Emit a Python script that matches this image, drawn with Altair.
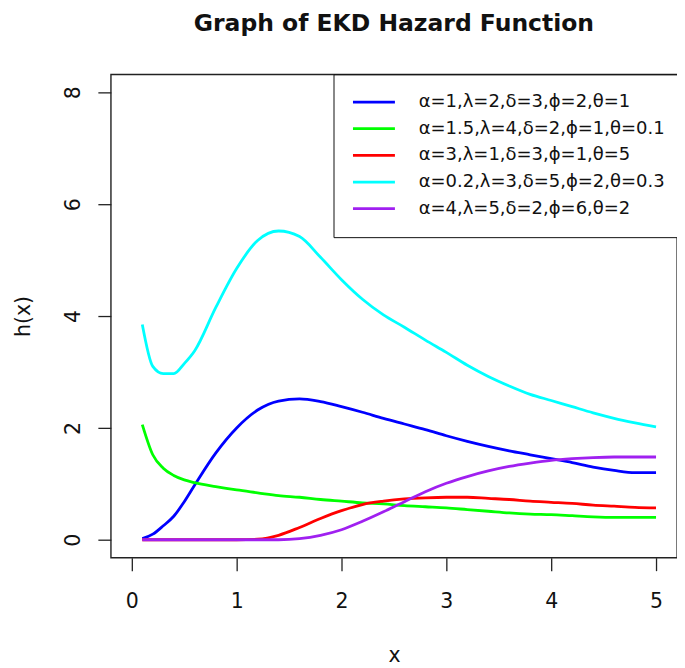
import altair as alt
import pandas as pd

x_vals = [0.1, 0.2, 0.3, 0.4, 0.5, 0.6, 0.8, 1.0, 1.2, 1.4, 1.6, 1.8, 2.0, 2.2,
          2.4, 2.6, 2.8, 3.0, 3.2, 3.4, 3.6, 3.8, 4.0, 4.2, 4.4, 4.6, 4.8, 5.0]

labels = [
    "α=1,λ=2,δ=3,ϕ=2,θ=1",
    "α=1.5,λ=4,δ=2,ϕ=1,θ=0.1",
    "α=3,λ=1,δ=3,ϕ=1,θ=5",
    "α=0.2,λ=3,δ=5,ϕ=2,θ=0.3",
    "α=4,λ=5,δ=2,ϕ=6,θ=2",
]
colors = ["#0000FF", "#00FF00", "#FF0000", "#00FFFF", "#A020F0"]

h_blue = [0.02, 0.10, 0.25, 0.42, 0.68, 0.98, 1.55, 2.00, 2.32, 2.48, 2.52, 2.47, 2.38, 2.28,
          2.17, 2.07, 1.97, 1.86, 1.76, 1.67, 1.59, 1.52, 1.45, 1.38, 1.30, 1.24, 1.20, 1.20]
h_green = [2.06, 1.52, 1.28, 1.15, 1.07, 1.02, 0.95, 0.89, 0.84, 0.79, 0.76, 0.72, 0.69, 0.66,
           0.64, 0.61, 0.59, 0.57, 0.54, 0.51, 0.48, 0.46, 0.45, 0.43, 0.41, 0.40, 0.40, 0.40]
h_red = [0.0, 0.0, 0.0, 0.0, 0.0, 0.0, 0.0, 0.0, 0.01, 0.08, 0.22, 0.38, 0.52, 0.63,
         0.69, 0.73, 0.75, 0.76, 0.76, 0.74, 0.72, 0.69, 0.67, 0.65, 0.62, 0.60, 0.58, 0.57]
h_cyan = [3.85, 3.10, 2.97, 2.97, 3.15, 3.38, 4.15, 4.85, 5.35, 5.52, 5.42, 5.05, 4.65, 4.30,
          4.02, 3.80, 3.57, 3.35, 3.12, 2.92, 2.75, 2.60, 2.49, 2.38, 2.27, 2.17, 2.09, 2.02]
h_purple = [0.0, 0.0, 0.0, 0.0, 0.0, 0.0, 0.0, 0.0, 0.0, 0.0, 0.02, 0.08, 0.18, 0.33,
            0.50, 0.68, 0.86, 1.01, 1.13, 1.23, 1.31, 1.37, 1.42, 1.45, 1.47, 1.48, 1.48, 1.48]

x_ticks = [0, 1, 2, 3, 4, 5]
y_ticks = [0, 2, 4, 6, 8]

series = [h_blue, h_green, h_red, h_cyan, h_purple]
rows = []
for lab, ys in zip(labels, series):
    for xv, yv in zip(x_vals, ys):
        rows.append({"x": xv, "h": yv, "series": lab})
df = pd.DataFrame(rows)

FONT = "DejaVu Sans"

chart = alt.Chart(df).mark_line(strokeWidth=2.8, clip=True, interpolate="monotone").encode(
    x=alt.X("x:Q",
            scale=alt.Scale(domain=[-0.2, 5.2], nice=False, zero=False),
            axis=alt.Axis(values=x_ticks, title="x", grid=False, domain=False,
                          tickSize=13, tickColor="#222", tickWidth=1.3,
                          labelFont=FONT, labelFontSize=20.5, labelColor="#111",
                          labelBaseline="alphabetic", labelPadding=36.7,
                          labelFlush=False, labelOverlap=False,
                          titleFont=FONT, titleFontSize=20.5, titleFontWeight="normal",
                          titleColor="#111", titleBaseline="alphabetic", titleY=104)),
    y=alt.Y("h:Q",
            scale=alt.Scale(domain=[-0.32, 8.32], nice=False, zero=False),
            axis=alt.Axis(values=y_ticks, title="h(x)", grid=False, domain=False,
                          tickSize=13, tickColor="#222", tickWidth=1.3,
                          labelFont=FONT, labelFontSize=20.5, labelColor="#111",
                          labelAngle=270, labelAlign="center", labelBaseline="alphabetic",
                          labelPadding=18.7, labelFlush=False, labelOverlap=False,
                          titleFont=FONT, titleFontSize=20.5, titleFontWeight="normal",
                          titleColor="#111", titleAngle=270, titleAlign="center",
                          titleBaseline="alphabetic", titleX=-81, titleY=242)),
    color=alt.Color("series:N",
                    scale=alt.Scale(domain=labels, range=colors),
                    sort=labels,
                    legend=alt.Legend(title=None, orient="none", legendX=223, legendY=0,
                                      strokeColor="#111", fillColor="white", padding=15.7,
                                      symbolType="stroke", symbolSize=1764,
                                      symbolStrokeWidth=2.8, symbolOffset=2.3,
                                      clipHeight=24, rowPadding=2.7,
                                      labelFont=FONT, labelFontSize=18, labelColor="#111",
                                      labelLimit=500, labelOffset=22.3)),
).properties(
    width=567,
    height=484,
    title=alt.TitleParams("Graph of EKD Hazard Function", font=FONT, fontSize=23.5,
                          fontWeight="bold", color="#111", anchor="middle",
                          baseline="alphabetic", offset=19),
    autosize=alt.AutoSizeParams(type="none"),
    padding={"left": 103, "top": 66, "right": 0, "bottom": 110},
).configure_view(
    stroke="#222", strokeWidth=1.4
)

chart.save("out.html", embed_options={"renderer": "svg", "actions": False})
